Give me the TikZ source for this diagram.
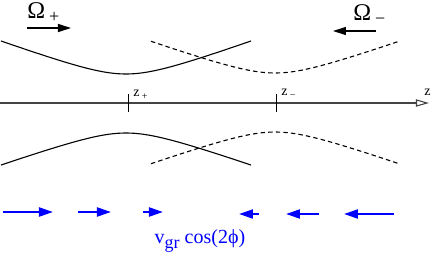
\documentclass[tikz,border=0pt]{standalone}
\usepackage{fontspec}
\setmainfont{Liberation Serif}
\usepackage{tikz}
\usetikzlibrary{arrows.meta,positioning}
\definecolor{flowblue}{HTML}{0000FF}
\definecolor{axisgray}{HTML}{444444}
\tikzset{
  wave/.style={line width=0.55pt},
  dashwave/.style={wave, dash pattern=on 2.2pt off 1.6pt},
  axisline/.style={draw=axisgray, line width=0.55pt, -{Triangle[open,length=6.5pt,width=3.6pt]}},
  tickmark/.style={line width=0.45pt},
  omegaarrow/.style={-{Triangle[length=6.5pt,width=4pt]}, line width=0.6pt},
  flow/.style={-{Triangle[length=7pt,width=4.5pt]}, line width=1.1pt, draw=flowblue, fill=flowblue},
  lbl/.style={inner sep=0pt, anchor=base west},
}

\begin{document}
\begin{tikzpicture}[x=0.5pt,y=-0.5pt]
  \useasboundingbox (0,0) rectangle (436,258);

  % rotation senses
  \node[lbl, font=\large] (omplus) at (27,18) {Ω\,\raisebox{-2pt}{\small +}};
  \node[lbl, font=\large] (omminus) at (353,20) {Ω\,\raisebox{-2pt}{\small −}};
  \coordinate (omplus-s) at (27,28);
  \coordinate (omplus-e) at (71,28);
  \coordinate (omminus-s) at (376,31);
  \coordinate (omminus-e) at (333,31);
  \draw[omegaarrow] (omplus-s) -- (omplus-e);
  \draw[omegaarrow] (omminus-s) -- (omminus-e);

  % upper profiles
  \draw[wave] plot[domain=-125:125, samples=61, smooth]
    ({126+\x}, {74-33*(sqrt(1+(\x/40)*(\x/40))-1)/2.28});
  \draw[dashwave] plot[domain=-124:124, samples=61, smooth]
    ({275+\x}, {73-32*(sqrt(1+(\x/40)*(\x/40))-1)/2.28});

  % z axis
  \coordinate (zstart) at (0,103);
  \coordinate (zend) at (429,103);
  \draw[axisline] (zstart) -- (zend);
  \node[lbl, font=\scriptsize] (zlab) at (424,95) {z};
  \draw[tickmark] (128,94) -- (128,112);
  \draw[tickmark] (276,94) -- (276,112);
  \node[lbl, font=\scriptsize] (zplus) at (133,96) {z\,\raisebox{-1.5pt}{\tiny +}};
  \node[lbl, font=\scriptsize] (zminus) at (281,95) {z\,\raisebox{-1.5pt}{\tiny −}};

  % lower profiles
  \draw[wave] plot[domain=-125:125, samples=61, smooth]
    ({126+\x}, {133+32*(sqrt(1+(\x/40)*(\x/40))-1)/2.28});
  \draw[dashwave] plot[domain=-124:124, samples=61, smooth]
    ({275+\x}, {132+32*(sqrt(1+(\x/40)*(\x/40))-1)/2.28});

  % group velocity arrows
  \foreach \i/\a/\b/\y in {1/3/53/212, 2/78/111/212, 3/143/163/212,
                           4/259/239/214, 5/319/286/214, 6/394/344/214} {
    \coordinate (vs\i) at (\a,\y);
    \coordinate (ve\i) at (\b,\y);
    \draw[flow] (vs\i) -- (ve\i);
  }
  \node[text=flowblue] (vgr) at (200,241) {v\raisebox{-2.5pt}{\small gr} cos(2ϕ)};
\end{tikzpicture}
\end{document}
